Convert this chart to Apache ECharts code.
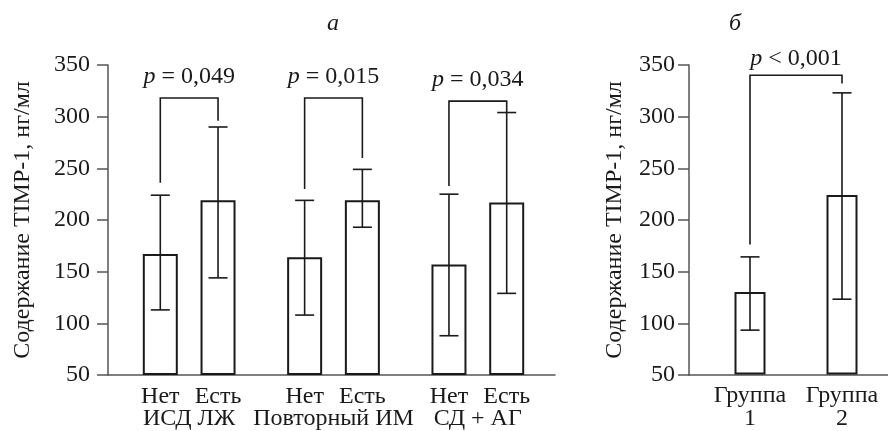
<!DOCTYPE html>
<html>
<head>
<meta charset="utf-8">
<script src="https://cdn.jsdelivr.net/npm/echarts@6/dist/echarts.min.js"></script>
<style>
html,body{margin:0;padding:0;background:#fff;}
#chart{width:888px;height:431px;}
</style>
</head>
<body>
<div id="chart"></div>
<script>
// ---- data (panel а) ----
const categoriesA = ['Нет', 'Есть', 'Нет', 'Есть', 'Нет', 'Есть'];
const groupsA = ['ИСД ЛЖ', 'Повторный ИМ', 'СД + АГ'];
const meansA = [167, 219, 164, 219, 157, 217];
const lowA = [113, 144, 108, 193, 88, 129];
const highA = [224, 290, 219, 249, 225, 304];
const pLabelsA = ['p = 0,049', 'p = 0,015', 'p = 0,034'];
const bracketTopA = [318, 318, 315];
const legLeftEndA = [236, 230, 233];
const legRightEndA = [296, 260, 304];
// ---- data (panel б) ----
const categoriesB = ['Группа\n1', 'Группа\n2'];
const meansB = [130, 224];
const lowB = [93, 123];
const highB = [164, 323];
const pLabelsB = ['p < 0,001'];
const bracketTopB = [340];
const legLeftEndB = [176];
const legRightEndB = [332];
// ---- axis ----
const yMin = 50, yMax = 350, yStep = 50;
const yTitle = 'Содержание TIMP-1, нг/мл';
const panelTitles = ['а', 'б'];

const FONT = 'Liberation Serif';
const FS = 24;
const TXT = '#1a1a1a';
const AX = '#555';

// slot layout for panel а: pairs with gaps between groups
const slotOf = i => 1 + 5 * Math.floor(i / 2) + 2 * (i % 2);
const nSlots = 15;
const slotLabels = new Array(nSlots).fill('');
categoriesA.forEach((c, i) => { slotLabels[slotOf(i)] = c; });
const groupSlotLabels = new Array(nSlots).fill('');
groupsA.forEach((g, k) => { groupSlotLabels[2 + 5 * k] = g; });

function errRender(params, api) {
  const x = api.value(0);
  const lo = api.coord([x, api.value(1)]);
  const hi = api.coord([x, api.value(2)]);
  const hw = 9.5;
  const st = { stroke: TXT, lineWidth: 1.6 };
  return { type: 'group', children: [
    { type: 'line', shape: { x1: lo[0], y1: lo[1], x2: hi[0], y2: hi[1] }, style: st },
    { type: 'line', shape: { x1: lo[0] - hw, y1: lo[1], x2: lo[0] + hw, y2: lo[1] }, style: st },
    { type: 'line', shape: { x1: hi[0] - hw, y1: hi[1], x2: hi[0] + hw, y2: hi[1] }, style: st }
  ]};
}

function makeBracketRender(labels, textGap) {
  return function (params, api) {
    const xl = api.value(0), xr = api.value(1);
    const tl = api.coord([xl, api.value(2)]);
    const tr = api.coord([xr, api.value(2)]);
    const el = api.coord([xl, api.value(3)]);
    const er = api.coord([xr, api.value(4)]);
    const st = { stroke: TXT, lineWidth: 1.6, fill: null };
    const lab = labels[params.dataIndex];
    return { type: 'group', children: [
      { type: 'polyline', shape: { points: [[el[0], el[1]], [tl[0], tl[1]], [tr[0], tr[1]], [er[0], er[1]]] }, style: st },
      { type: 'text', x: (tl[0] + tr[0]) / 2, y: tl[1] - textGap,
        style: { text: '{i|p}' + lab.slice(1), fill: TXT, fontFamily: FONT, fontSize: FS,
          align: 'center', verticalAlign: 'middle',
          rich: { i: { fontStyle: 'italic', fontFamily: FONT, fontSize: FS, fill: TXT } } } }
    ]};
  };
}

const yAxisVisible = (grid, gap, margin) => ({
  gridIndex: grid, type: 'value', min: yMin, max: yMax, interval: yStep,
  axisLine: { show: true, onZero: false, lineStyle: { color: AX, width: 1.5 } },
  axisTick: { show: true, length: 11, lineStyle: { color: AX, width: 1.5 } },
  axisLabel: { margin: margin, color: TXT, fontFamily: FONT, fontSize: FS },
  splitLine: { show: false },
  name: yTitle, nameLocation: 'middle', nameGap: gap, nameRotate: 90,
  nameTextStyle: { color: TXT, fontFamily: FONT, fontSize: FS }
});
const yAxisHidden = grid => ({ gridIndex: grid, type: 'value', min: yMin, max: yMax, startValue: yMin, show: false });
const xAxisLine = grid => ({
  gridIndex: grid, type: 'value', min: 0, max: 1,
  axisLine: { show: true, onZero: false, lineStyle: { color: AX, width: 1.5 } },
  axisTick: { show: false }, axisLabel: { show: false }, splitLine: { show: false }
});
const catLabel = { interval: 0, color: TXT, fontFamily: FONT, fontSize: FS, margin: 10, lineHeight: 23 };

const option = {
  animation: false,
  backgroundColor: '#fff',
  grid: [
    { left: 108, top: 65, width: 447, height: 310 },
    { left: 117, top: 65, width: 433, height: 310 },
    { left: 689, top: 65, width: 199, height: 310 },
    { left: 704, top: 65, width: 195, height: 310 }
  ],
  xAxis: [
    xAxisLine(0),
    { gridIndex: 1, type: 'category', data: slotLabels, axisLine: { show: false }, axisTick: { show: false }, axisLabel: catLabel },
    { gridIndex: 1, type: 'category', data: groupSlotLabels, position: 'bottom', offset: 22, axisLine: { show: false }, axisTick: { show: false }, axisLabel: catLabel },
    xAxisLine(2),
    { gridIndex: 3, type: 'category', data: categoriesB, axisLine: { show: false }, axisTick: { show: false }, axisLabel: catLabel }
  ],
  yAxis: [ yAxisVisible(0, 73, 18), yAxisHidden(1), yAxisVisible(2, 62, 14), yAxisHidden(3) ],
  graphic: [
    { type: 'text', x: 333, y: 24, style: { text: panelTitles[0], fill: TXT, font: 'italic 24px "Liberation Serif"', align: 'center', verticalAlign: 'middle' } },
    { type: 'text', x: 735, y: 24, style: { text: panelTitles[1], fill: TXT, font: 'italic 24px "Liberation Serif"', align: 'center', verticalAlign: 'middle' } }
  ],
  series: [
    { type: 'bar', xAxisIndex: 1, yAxisIndex: 1, barWidth: 35, clip: true,
      data: meansA.map((v, i) => [slotOf(i), v]),
      itemStyle: { color: '#fff', borderColor: TXT, borderWidth: 2 } },
    { type: 'custom', xAxisIndex: 1, yAxisIndex: 1, z: 5, renderItem: errRender,
      data: meansA.map((v, i) => [slotOf(i), lowA[i], highA[i]]) },
    { type: 'custom', xAxisIndex: 1, yAxisIndex: 1, z: 5, renderItem: makeBracketRender(pLabelsA, 21),
      data: pLabelsA.map((p, k) => [slotOf(2 * k), slotOf(2 * k + 1), bracketTopA[k], legLeftEndA[k], legRightEndA[k]]) },
    { type: 'bar', xAxisIndex: 4, yAxisIndex: 3, barWidth: 31, clip: true,
      data: meansB,
      itemStyle: { color: '#fff', borderColor: TXT, borderWidth: 2 } },
    { type: 'custom', xAxisIndex: 4, yAxisIndex: 3, z: 5, renderItem: errRender,
      data: meansB.map((v, i) => [i, lowB[i], highB[i]]) },
    { type: 'custom', xAxisIndex: 4, yAxisIndex: 3, z: 5, renderItem: makeBracketRender(pLabelsB, 17),
      data: pLabelsB.map((p, k) => [0, 1, bracketTopB[k], legLeftEndB[k], legRightEndB[k]]) }
  ]
};

const chart = echarts.init(document.getElementById('chart'), null, { renderer: 'canvas' });
chart.setOption(option);
</script>
</body>
</html>
